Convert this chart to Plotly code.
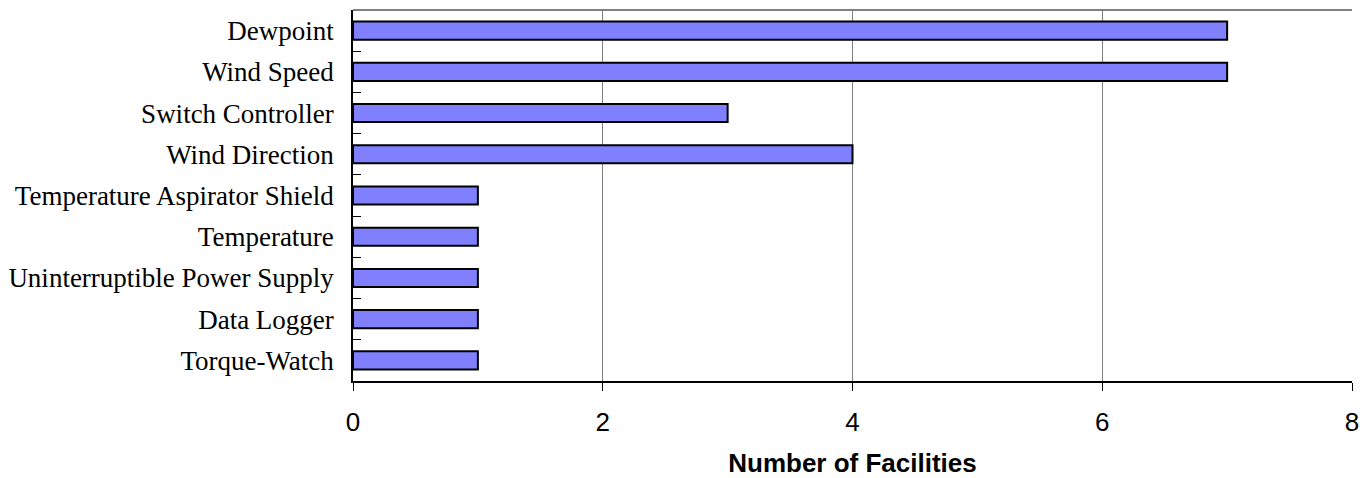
import plotly.graph_objects as go

categories = ["Dewpoint", "Wind Speed", "Switch Controller", "Wind Direction",
              "Temperature Aspirator Shield", "Temperature",
              "Uninterruptible Power Supply", "Data Logger", "Torque-Watch"]
facilities = [7, 7, 3, 4, 1, 1, 1, 1, 1]
x_ticks = [0, 2, 4, 6, 8]

fig = go.Figure(go.Bar(
    y=categories, x=facilities, orientation="h",
    marker=dict(color="#8080FF", line=dict(color="black", width=2)),
    width=0.44,
))

fig.update_layout(
    width=1364, height=478,
    margin=dict(l=353, r=12, t=10, b=97),
    plot_bgcolor="white", paper_bgcolor="white",
    showlegend=False,
    xaxis=dict(
        automargin=False,
        range=[0, 8], tickvals=x_ticks, showgrid=True, gridcolor="#808080", gridwidth=1,
        zeroline=False, showline=True, linecolor="black", linewidth=1.5,
        ticks="outside", ticklen=8, tickcolor="black",
        tickfont=dict(family="Liberation Sans, Arial", size=26, color="black"),
        ticklabelstandoff=9, ticklabeloverflow="allow",
        title=dict(text="<b>Number of Facilities</b>",
                   font=dict(family="Liberation Sans, Arial", size=26, color="black"),
                   standoff=25),
    ),
    yaxis=dict(
        automargin=False,
        categoryorder="array", categoryarray=categories[::-1],
        range=[-0.5, len(categories) - 0.5],
        showline=True, linecolor="black", linewidth=1.5,
        ticks="inside", ticklen=8, tickcolor="black", tickson="boundaries",
        showgrid=False,
        tickfont=dict(family="Liberation Serif, Times New Roman", size=27, color="black"),
        ticklabelstandoff=12,
    ),
    shapes=[dict(type="line", xref="paper", yref="paper", x0=0, x1=1, y0=1, y1=1,
                 line=dict(color="#808080", width=2))],
)

fig.write_html(
    "out.html",
    config={"displayModeBar": False},
    post_script="document.body.style.margin='0';document.body.style.overflow='hidden';",
)
